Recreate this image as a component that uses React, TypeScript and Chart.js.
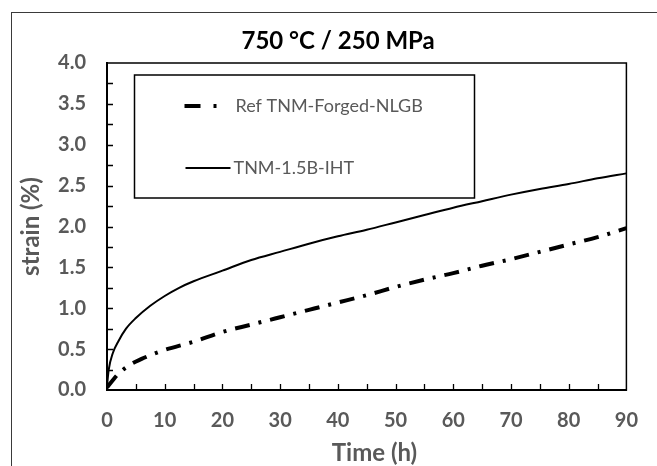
import React, { useEffect, useRef } from "react";
import { Chart, registerables } from "chart.js";

Chart.register(...registerables);

const titleText = "750 °C / 250 MPa";
const xTitle = "Time (h)";
const yTitle = "strain (%)";
const refLabel = "Ref TNM-Forged-NLGB";
const ihtLabel = "TNM-1.5B-IHT";

const refTime = [0, 1, 2, 4, 6, 8, 10, 15, 20, 25, 30, 35, 40, 45, 50, 55, 60, 65, 70, 75, 80, 85, 90];
const refStrain = [0.03, 0.12, 0.2, 0.31, 0.38, 0.44, 0.49, 0.59, 0.71, 0.8, 0.89, 0.98, 1.07, 1.16, 1.26, 1.35, 1.43, 1.52, 1.6, 1.69, 1.78, 1.87, 1.98];

const ihtTime = [0, 0.3, 1, 2, 3.3, 5, 7.5, 10, 12.5, 15, 20, 25, 30, 35, 40, 45, 50, 55, 60, 65, 70, 75, 80, 85, 90];
const ihtStrain = [0.05, 0.25, 0.45, 0.6, 0.75, 0.88, 1.03, 1.15, 1.25, 1.33, 1.46, 1.59, 1.69, 1.79, 1.88, 1.96, 2.05, 2.14, 2.23, 2.31, 2.39, 2.46, 2.52, 2.59, 2.65];

const xMin = 0, xMax = 90, xStep = 10, xMinorStep = 5;
const yMin = 0, yMax = 4, yStep = 0.5, yMinorStep = 0.25;

const GRAY = "#595959";
const FONT = "Lato, 'Open Sans', sans-serif";
const REF_DASH = [15, 9, 3, 9];

const decorPlugin = {
  id: "decor",
  beforeDraw(chart: any) {
    const ctx = chart.ctx;
    ctx.save();
    ctx.fillStyle = "#ffffff";
    ctx.fillRect(0, 0, chart.width, chart.height);
    ctx.strokeStyle = "#3a3a3a";
    ctx.lineWidth = 1;
    ctx.strokeRect(11.5, 12.5, chart.width + 20, chart.height + 20);
    ctx.restore();
  },
  afterDraw(chart: any) {
    const ctx = chart.ctx;
    const { left, right, top, bottom } = chart.chartArea;
    const xs = chart.scales.x;
    const ys = chart.scales.y;
    ctx.save();
    // plot frame
    ctx.strokeStyle = "#000";
    ctx.lineWidth = 1.5;
    ctx.strokeRect(left, top, right - left, bottom - top);
    ctx.lineWidth = 2;
    ctx.beginPath();
    ctx.moveTo(left, top);
    ctx.lineTo(left, bottom);
    ctx.lineTo(right, bottom);
    ctx.stroke();
    // inward ticks
    ctx.lineWidth = 1.3;
    ctx.beginPath();
    for (let v = yMin + yMinorStep; v < yMax - 1e-9; v += yMinorStep) {
      const py = Math.round(ys.getPixelForValue(v)) + 0.5;
      ctx.moveTo(left, py);
      ctx.lineTo(left + 6, py);
    }
    for (let v = xMin + xMinorStep; v < xMax - 1e-9; v += xMinorStep) {
      const px = Math.round(xs.getPixelForValue(v)) + 0.5;
      ctx.moveTo(px, bottom);
      ctx.lineTo(px, bottom - 6);
    }
    ctx.stroke();

    // title
    ctx.fillStyle = "#000";
    ctx.font = `bold 24px ${FONT}`;
    ctx.textAlign = "center";
    ctx.textBaseline = "middle";
    ctx.fillText(titleText, left + (right - left) * 0.445, top - 22);

    // x axis title
    ctx.fillStyle = GRAY;
    ctx.font = `bold 24px ${FONT}`;
    ctx.fillText(xTitle, left + (right - left) * 0.515, bottom + 63);

    // legend
    const lx = left + 27.5, ly = top + 12, lw = 340, lh = 123;
    ctx.fillStyle = "#fff";
    ctx.fillRect(lx, ly, lw, lh);
    ctx.strokeStyle = "#000";
    ctx.lineWidth = 1.5;
    ctx.strokeRect(lx, ly, lw, lh);

    const r1 = ly + 31, r2 = ly + 93;
    ctx.lineWidth = 4;
    ctx.beginPath();
    ctx.moveTo(lx + 50, r1);
    ctx.lineTo(lx + 66, r1);
    ctx.moveTo(lx + 79, r1);
    ctx.lineTo(lx + 82, r1);
    ctx.stroke();
    ctx.lineWidth = 2;
    ctx.beginPath();
    ctx.moveTo(lx + 51, r2);
    ctx.lineTo(lx + 96, r2);
    ctx.stroke();

    ctx.fillStyle = GRAY;
    ctx.font = `18px ${FONT}`;
    ctx.textAlign = "left";
    ctx.fillText(refLabel, lx + 101, r1);
    ctx.fillText(ihtLabel, lx + 99, r2);
    ctx.restore();
  },
};

export default function App() {
  const ref = useRef<HTMLCanvasElement | null>(null);
  useEffect(() => {
    if (!ref.current) return;
    const chart = new Chart(ref.current, {
      type: "line",
      data: {
        datasets: [
          {
            label: refLabel,
            data: refTime.map((t, i) => ({ x: t, y: refStrain[i] })),
            borderColor: "#000",
            borderWidth: 4,
            borderDash: REF_DASH,
            borderCapStyle: "butt",
            pointRadius: 0,
            cubicInterpolationMode: "monotone",
            fill: false,
          },
          {
            label: ihtLabel,
            data: ihtTime.map((t, i) => ({ x: t, y: ihtStrain[i] })),
            borderColor: "#000",
            borderWidth: 2,
            pointRadius: 0,
            cubicInterpolationMode: "monotone",
            fill: false,
          },
        ],
      },
      options: {
        responsive: false,
        animation: false,
        devicePixelRatio: 1,
        layout: { padding: { top: 63, right: 12, left: 0, bottom: 0 } },
        plugins: {
          legend: { display: false },
          title: { display: false },
          tooltip: { enabled: false },
        },
        scales: {
          x: {
            type: "linear",
            min: xMin,
            max: xMax,
            ticks: {
              stepSize: xStep,
              color: GRAY,
              font: { family: FONT, size: 20, weight: "bold" },
              padding: 19,
              maxRotation: 0,
            },
            grid: { drawOnChartArea: false, drawTicks: false },
            border: { display: true, color: "#000", width: 2 },
            title: { display: false, text: xTitle },
            afterFit(scale: any) {
              scale.height = 76;
            },
          },
          y: {
            type: "linear",
            min: yMin,
            max: yMax,
            ticks: {
              stepSize: yStep,
              color: GRAY,
              font: { family: FONT, size: 20, weight: "bold" },
              padding: 21,
              callback: (v: any) => Number(v).toFixed(1),
            },
            grid: { drawOnChartArea: false, drawTicks: false },
            border: { display: true, color: "#000", width: 2 },
            title: {
              display: true,
              text: yTitle,
              color: GRAY,
              font: { family: FONT, size: 24, weight: "bold" },
              padding: { top: 17, bottom: 0 },
            },
            afterFit(scale: any) {
              scale.width = 107;
            },
          },
        },
      },
      plugins: [decorPlugin],
    });
    return () => chart.destroy();
  }, []);
  return (
    <div style={{ position: "absolute", left: 0, top: 0, width: 657, height: 466 }}>
      <canvas ref={ref} width={657} height={466} style={{ display: "block" }} />
    </div>
  );
}
